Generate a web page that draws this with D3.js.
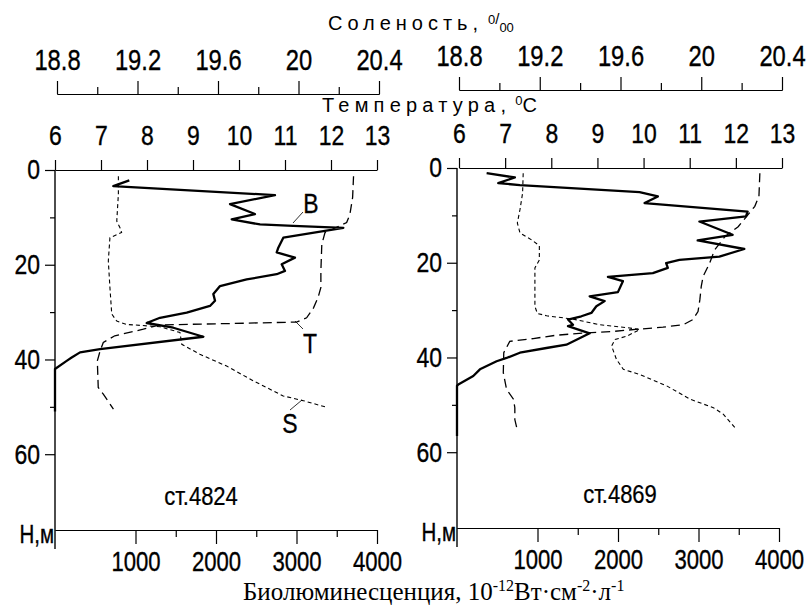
<!DOCTYPE html>
<html><head><meta charset="utf-8">
<script src="https://cdn.jsdelivr.net/npm/d3@7"></script>
<style>
body{margin:0;background:#fff}
svg{display:block;font-family:"Liberation Sans",Arial,sans-serif}
</style></head><body>
<svg id="chart" width="809" height="606"></svg>
<script>
// Station 4824 profiles: [depth, value]
const bio4824 = [[2.2,923],[3.4,724],[5.3,2733],[7.2,2174],[9.3,2484],[10.4,2195],[11.5,2547],[11.8,2960],[12.2,3582],[14.3,2836],[16.4,2774],[17.4,2754],[18.5,2981],[19.9,2816],[21.3,2857],[22,2754],[23.1,2381],[24.5,2050],[26.2,1967],[27.6,1988],[28.7,1925],[30.1,1636],[31.2,1304],[32.3,1139],[33.3,1470],[35.2,1843],[37.8,559],[38.5,311],[39.6,207],[40.3,145],[42,0],[51,0]];
const temp4824 = [[1.3,12.49],[5.8,12.47],[9.4,12.41],[11.1,12.34],[13.2,11.87],[15.7,11.8],[21.3,11.78],[24.8,11.78],[26.9,11.72],[29.1,11.62],[31.2,11.47],[32.1,11.25],[32.4,9.88],[32.7,8.28],[33.6,7.92],[35,7.3],[36.4,7.05],[38.2,6.98],[40.3,6.92],[45.9,6.94],[47.3,7.05],[50.5,7.27]];
const sal4824 = [[1.3,19.105],[5.1,19.105],[10.8,19.097],[12.2,19.113],[13.2,19.121],[14.3,19.063],[19.2,19.055],[24.8,19.063],[30.4,19.072],[31.9,19.097],[32.6,19.146],[33.1,19.312],[34.3,19.411],[36.8,19.42],[38.9,19.51],[41.4,19.643],[44.5,19.775],[47.7,19.924],[48.7,20.024],[50.1,20.14]];

// Station 4869 profiles: [depth, value]
const bio4869 = [[1.1,368],[2.0,719],[3.2,512],[3.6,781],[5.1,2268],[6.0,2495],[7.4,2330],[9.2,3610],[10.2,3590],[11.3,3011],[14.1,3424],[15.3,2990],[17.1,3569],[18.7,3259],[19.4,2763],[20.1,2598],[21.1,2619],[22.2,2433],[23,1875],[23.9,2061],[26.2,1999],[27.1,1648],[28.1,1834],[29.2,1731],[30.6,1669],[31.3,1545],[32,1379],[33.1,1441],[33.4,1379],[34.9,1648],[37.3,1359],[38,1111],[39,781],[40.1,616],[40.8,492],[42.5,285],[43.9,202],[45.7,16],[46,0],[56.6,0]];
const temp4869 = [[1.1,12.52],[6.0,12.5],[8.1,12.41],[9.9,12.26],[12.4,12.05],[14.5,11.76],[17.3,11.54],[20.1,11.43],[22.9,11.29],[25,11.25],[27.8,11.22],[30.3,11.18],[32,11.07],[33.1,10.86],[33.6,10.42],[34,9.92],[34.5,9.34],[34.8,8.76],[35.3,8.11],[36,7.61],[36.6,7.1],[39,6.97],[43.2,6.96],[46.7,7.03],[48.8,7.18],[50.6,7.21],[53.1,7.21],[55.2,7.26]];
const sal4869 = [[1.1,19.118],[5.3,19.115],[8.8,19.102],[11.6,19.089],[13.7,19.102],[15.2,19.16],[16.4,19.198],[19.4,19.198],[21.1,19.176],[29.2,19.176],[30.7,19.188],[31.2,19.234],[31.9,19.366],[33.1,19.498],[33.7,19.631],[34.1,19.696],[35.5,19.631],[36.2,19.573],[37.6,19.556],[40.4,19.58],[42.5,19.614],[43.6,19.696],[46,19.829],[48.8,19.944],[50.6,20.06],[52,20.11],[55.2,20.175]];

// Axis ticks
const salTicks = [18.8, 19.2, 19.6, 20, 20.4];
const salMinor = [19.0, 19.4, 19.8, 20.2];
const tempTicks = [6, 7, 8, 9, 10, 11, 12, 13];
const depthTicks = [0, 20, 40, 60];
const depthMinor = [10, 30, 50];
const bioTicks = [1000, 2000, 3000, 4000];
const bioMinor = [1500, 2500, 3500];
const stations = ["ст.4824", "ст.4869"];

const svg = d3.select("#chart");
const SX = 0.82; // horizontal squeeze for the narrow sans lettering

const panels = [
  {name: stations[0], bio: bio4824, temp: temp4824, sal: sal4824,
   bx: [55, 377], tx: [55, 377], sx: [57, 379], y: [170, 530], salY: 94, nameX: 201, labels: true},
  {name: stations[1], bio: bio4869, temp: temp4869, sal: sal4869,
   bx: [457, 779], tx: [459, 782], sx: [459, 782], y: [168, 528], salY: 90, nameX: 620, labels: false}
];

function styleAxis(g, size) {
  g.selectAll("path.domain").attr("stroke", "#000").attr("stroke-width", 1.2);
  g.selectAll(".tick line").attr("stroke", "#000").attr("stroke-width", 1.2);
  g.selectAll("text").attr("fill", "#000").attr("font-size", size)
    .attr("stroke", "#000").attr("stroke-width", 0.35)
    .attr("font-family", "'Liberation Sans', Arial, sans-serif")
    .attr("transform", `scale(${SX},1)`);
}

const fmt = d => String(+d.toFixed(1));

panels.forEach(p => {
  const yS = d3.scaleLinear().domain([0, 76]).range(p.y);
  const bS = d3.scaleLinear().domain([0, 4000]).range(p.bx);
  const tS = d3.scaleLinear().domain([6, 13]).range(p.tx);
  const sS = d3.scaleLinear().domain([18.8, 20.4]).range(p.sx);
  const g = svg.append("g");

  // salinity axis (top)
  const sMaj = g.append("g").attr("transform", `translate(0,${p.salY})`)
    .call(d3.axisTop(sS).tickValues(salTicks).tickSize(13).tickSizeOuter(0).tickPadding(11).tickFormat(fmt));
  styleAxis(sMaj, 29);
  const sMin = g.append("g").attr("transform", `translate(0,${p.salY})`)
    .call(d3.axisTop(sS).tickValues(salMinor).tickSize(7).tickSizeOuter(0).tickFormat(""));
  styleAxis(sMin, 0);

  // temperature axis (top of plot)
  const tAx = g.append("g").attr("transform", `translate(0,${p.y[0]})`)
    .call(d3.axisTop(tS).tickValues(tempTicks).tickSize(10).tickSizeOuter(0).tickPadding(15).tickFormat(fmt));
  styleAxis(tAx, 28);

  // depth axis
  const dAx = g.append("g").attr("transform", `translate(${p.bx[0]},0)`)
    .call(d3.axisLeft(yS).tickValues(depthTicks).tickSize(10).tickSizeOuter(0).tickPadding(5));
  styleAxis(dAx, 28);
  dAx.select("path.domain").remove();
  dAx.selectAll("text").attr("x", -15 / SX);
  const dMin = g.append("g").attr("transform", `translate(${p.bx[0]},0)`)
    .call(d3.axisLeft(yS).tickValues(depthMinor).tickSize(5).tickFormat(""));
  styleAxis(dMin, 0);
  dMin.select("path.domain").remove();
  g.append("line").attr("x1", p.bx[0]).attr("x2", p.bx[0])
    .attr("y1", p.y[0]).attr("y2", p.y[1] + 19)
    .attr("stroke", "#000").attr("stroke-width", 1.4);

  // bioluminescence axis (bottom)
  const bAx = g.append("g").attr("transform", `translate(0,${p.y[1]})`)
    .call(d3.axisBottom(bS).tickValues(bioTicks).tickSize(14).tickSizeOuter(0).tickPadding(8).tickFormat(fmt));
  styleAxis(bAx, 27);
  const bMin = g.append("g").attr("transform", `translate(0,${p.y[1]})`)
    .call(d3.axisBottom(bS).tickValues(bioMinor).tickSize(7).tickSizeOuter(0).tickFormat(""));
  styleAxis(bMin, 0);

  // H,m label
  g.append("text").attr("transform", `translate(${p.bx[0] - 1},${p.y[1] + 13}) scale(${SX},1)`)
    .attr("text-anchor", "end").attr("font-size", 25)
    .attr("stroke", "#000").attr("stroke-width", 0.35).text("Н,м");

  // station label
  g.append("text").attr("transform", `translate(${p.nameX},${p.y[1] - 25}) scale(0.88,1)`)
    .attr("text-anchor", "middle").attr("font-size", 25)
    .attr("stroke", "#000").attr("stroke-width", 0.25).text(p.name);

  // profiles
  const lineB = d3.line().x(d => bS(d[1])).y(d => yS(d[0]));
  const lineT = d3.line().x(d => tS(d[1])).y(d => yS(d[0]));
  const lineS = d3.line().x(d => sS(d[1])).y(d => yS(d[0]));
  g.append("path").datum(p.sal).attr("d", lineS).attr("fill", "none")
    .attr("stroke", "#000").attr("stroke-width", 1.1).attr("stroke-dasharray", "4,3");
  g.append("path").datum(p.temp).attr("d", lineT).attr("fill", "none")
    .attr("stroke", "#000").attr("stroke-width", 1.3).attr("stroke-dasharray", "9,5");
  g.append("path").datum(p.bio).attr("d", lineB).attr("fill", "none")
    .attr("stroke", "#000").attr("stroke-width", 2.3).attr("stroke-linejoin", "round");

  if (p.labels) {
    // curve labels with leader lines
    const lab = [
      {t: "B", x: 311, y: 213, lx1: 303, ly1: 212, lx2: 293, ly2: 223},
      {t: "T", x: 310, y: 353, lx1: 303, ly1: 329, lx2: 295, ly2: 321},
      {t: "S", x: 290, y: 433, lx1: 290, ly1: 410, lx2: 302, ly2: 400}
    ];
    lab.forEach(l => {
      g.append("line").attr("x1", l.lx1).attr("y1", l.ly1).attr("x2", l.lx2).attr("y2", l.ly2)
        .attr("stroke", "#000").attr("stroke-width", 0.8);
      g.append("text").attr("transform", `translate(${l.x},${l.y}) scale(${SX},1)`)
        .attr("text-anchor", "middle").attr("font-size", 28)
        .attr("stroke", "#000").attr("stroke-width", 0.35).text(l.t);
    });
  }
});

// axis titles
const salTitle = svg.append("text").attr("x", 328).attr("y", 30).attr("font-size", 20);
salTitle.append("tspan").attr("textLength", 150).attr("lengthAdjust", "spacing").text("Соленость,");
salTitle.append("tspan").attr("dx", 5).attr("dy", -6).attr("font-size", 13).text("0");
salTitle.append("tspan").attr("dy", 0).attr("font-size", 15).text("/");
salTitle.append("tspan").attr("dy", 8).attr("font-size", 13).text("00");

const tempTitle = svg.append("text").attr("x", 322).attr("y", 112).attr("font-size", 20);
tempTitle.append("tspan").attr("textLength", 184).attr("lengthAdjust", "spacing").text("Температура,");
tempTitle.append("tspan").attr("dx", 4).attr("dy", -7).attr("font-size", 13).text("0");
tempTitle.append("tspan").attr("dy", 7).attr("font-size", 20).text("С");

const bTitle = svg.append("text").attr("x", 243).attr("y", 600)
  .attr("font-family", "'Liberation Serif', 'Times New Roman', serif").attr("font-size", 25);
bTitle.append("tspan").text("Биолюминесценция, 10");
bTitle.append("tspan").attr("dy", -9).attr("font-size", 16).text("-12");
bTitle.append("tspan").attr("dy", 9).text("Вт·см");
bTitle.append("tspan").attr("dy", -9).attr("font-size", 16).text("-2");
bTitle.append("tspan").attr("dy", 9).text("·л");
bTitle.append("tspan").attr("dy", -9).attr("font-size", 16).text("-1");
</script>
</body></html>
